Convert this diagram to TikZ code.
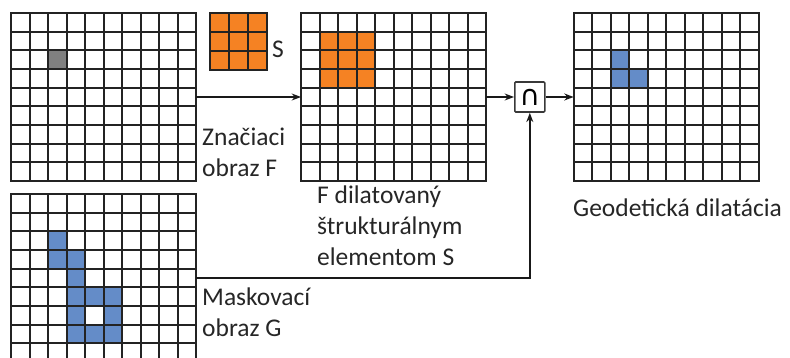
\documentclass[tikz,border=0pt]{standalone}
\usepackage{fontspec}
\setmainfont{Carlito}
\newfontfamily\symfont{DejaVu Sans}
\usetikzlibrary{arrows.meta,positioning,calc}
\definecolor{cellorange}{RGB}{245,130,35}
\definecolor{cellblue}{RGB}{100,140,200}
\definecolor{cellgray}{RGB}{128,128,128}
\definecolor{gridink}{RGB}{35,35,35}
\definecolor{textink}{RGB}{38,38,38}

\begin{document}
\begin{tikzpicture}[x=1pt,y=-1pt,
    img/.style={minimum width=185pt,minimum height=168pt,inner sep=0pt,outer sep=0pt},
    gl/.style={gridink,line width=2pt,line cap=rect},
    lbl/.style={text=textink,align=left,inner sep=0pt,font=\fontsize{25.5}{31}\selectfont},
    conn/.style={-{Stealth},line width=1.4pt,black!90}]
    \clip (0,0) rectangle (790,358);
    % the four images
    \node[img] (F) at (103.5,97) {};
    \node[img,right=105pt of F] (D) {};
    \node[draw=gridink!90,line width=1.6pt,rounded corners=1pt,minimum size=30pt,inner sep=0pt,
      right=28pt of D,font=\symfont\fontsize{28}{28}\selectfont] (cap) {∩};
    \node[img,right=28pt of cap] (R) {};
    \node[img,below=13pt of F] (G) {};
    % structuring element
    \node[fill=cellorange,minimum size=57pt,inner sep=0pt] (S) at (238.5,41.5) {};
    \begin{scope}[shift={(S.north west)},x=19pt,y=-19pt]
      \foreach \i in {0,...,3} {
        \draw[gl] (\i,0) -- (\i,3);
        \draw[gl] (0,\i) -- (3,\i);
      }
    \end{scope}
    % filled cells
    \begin{scope}[shift={(F.north west)},x=18.5pt,y=-18.67pt]
      \fill[cellgray] (2,2) rectangle +(1,1);
    \end{scope}
    \begin{scope}[shift={(D.north west)},x=18.5pt,y=-18.67pt]
      \fill[cellorange] (1,1) rectangle (4,4);
    \end{scope}
    \begin{scope}[shift={(R.north west)},x=18.5pt,y=-18.67pt]
      \foreach \c/\r in {2/2,2/3,3/3}
        \fill[cellblue] (\c,\r) rectangle +(1,1);
    \end{scope}
    \begin{scope}[shift={(G.north west)},x=18.5pt,y=-18.67pt]
      \foreach \c/\r in {2/2,2/3,3/3,3/4,3/5,4/5,5/5,3/6,5/6,3/7,4/7,5/7}
        \fill[cellblue] (\c,\r) rectangle +(1,1);
    \end{scope}
    % grid lines
    \foreach \g in {F,D,R,G} {
      \begin{scope}[shift={(\g.north west)},x=18.5pt,y=-18.67pt]
        \foreach \i in {0,...,10}
          \draw[gl] (\i,0) -- (\i,9);
        \foreach \j in {0,...,9}
          \draw[gl] (0,\j) -- (10,\j);
      \end{scope}
    }
    % labels
    \node[lbl,anchor=west] (slbl) at (272,49.5) {S};
    \node[lbl,anchor=north west] (flbl) at (202,128) {Značiaci\\obraz F};
    \node[lbl,anchor=north west] (dlbl) at (317,186) {F dilatovaný\\štrukturálnym\\elementom S};
    \node[lbl,anchor=north west] (glbl) at (202,288) {Maskovací\\obraz G};
    \node[lbl,anchor=base west] (rlbl) at (573,217) {Geodetická dilatácia};
    % connectors
    \draw[conn] (F) -- (D);
    \draw[conn] (D) -- (cap);
    \draw[conn] (cap) -- (R);
    \draw[conn] (G.east) -| (cap.south);
  \end{tikzpicture}
\end{document}
